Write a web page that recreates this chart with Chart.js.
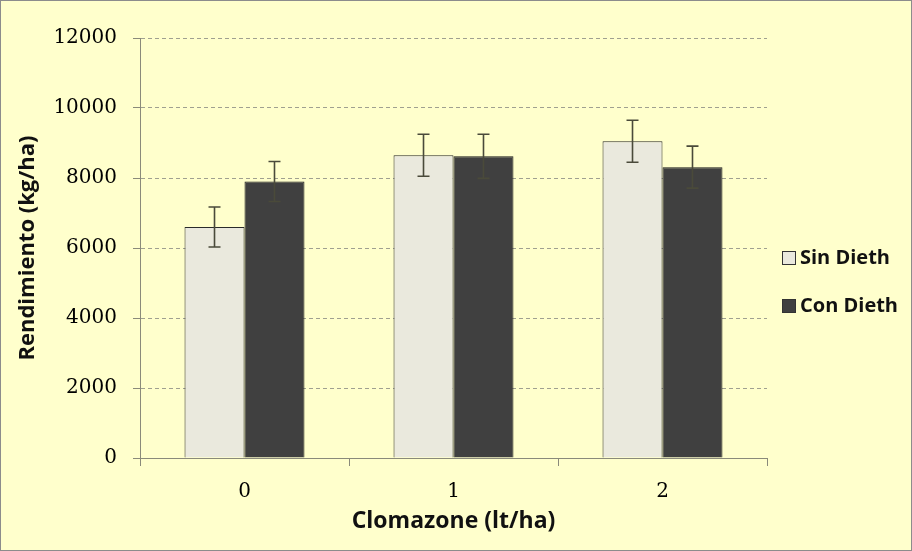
<!DOCTYPE html>
<html>
<head>
<meta charset="utf-8">
<script src="https://cdn.jsdelivr.net/npm/chart.js@4.4.0/dist/chart.umd.min.js"></script>
<style>
  html, body { margin: 0; padding: 0; background: #fff; }
  #wrap { position: relative; width: 912px; height: 551px; }
</style>
</head>
<body>
<div id="wrap"><canvas id="chart"></canvas></div>
<script>
// values
const doses = ["0", "1", "2"];
const sinDieth = [6600, 8650, 9050];
const sinDiethErr = [570, 600, 600];
const conDieth = [7900, 8620, 8310];
const conDiethErr = [570, 630, 600];
const yTicks = [0, 2000, 4000, 6000, 8000, 10000, 12000];

const BG = "#FFFFCC";

// background + outer frame
const frame = {
  id: "frame",
  beforeDraw(chart) {
    const c = chart.ctx;
    c.save();
    c.fillStyle = BG;
    c.fillRect(0, 0, chart.width, chart.height);
    c.strokeStyle = "#8c8c8c";
    c.lineWidth = 1;
    c.strokeRect(0.5, 0.5, chart.width - 1, chart.height - 1);
    c.restore();
  }
};

// error bars, using the y scale
const errorBars = {
  id: "errorBars",
  afterDatasetsDraw(chart) {
    const c = chart.ctx;
    const y = chart.scales.y;
    c.save();
    c.strokeStyle = "#4a4a3a";
    c.lineWidth = 1.6;
    chart.data.datasets.forEach((ds, i) => {
      const meta = chart.getDatasetMeta(i);
      meta.data.forEach((bar, j) => {
        const v = ds.data[j], e = ds.errors[j];
        const top = y.getPixelForValue(v + e);
        const bot = y.getPixelForValue(v - e);
        c.beginPath();
        c.moveTo(bar.x, top); c.lineTo(bar.x, bot);
        c.moveTo(bar.x - 6, top); c.lineTo(bar.x + 6, top);
        c.moveTo(bar.x - 6, bot); c.lineTo(bar.x + 6, bot);
        c.stroke();
      });
    });
    c.restore();
  }
};

// legend on the right, drawn from the datasets
const sideLegend = {
  id: "sideLegend",
  afterDraw(chart) {
    const c = chart.ctx;
    const rows = [258, 306];
    c.save();
    c.font = "bold 20px 'Open Sans'";
    c.textBaseline = "middle";
    chart.data.datasets.forEach((ds, i) => {
      const cy = rows[i];
      c.fillStyle = ds.backgroundColor;
      c.fillRect(782, cy - 7, 14, 14);
      c.strokeStyle = "#333";
      c.lineWidth = 1;
      c.strokeRect(782.5, cy - 6.5, 13, 13);
      c.fillStyle = "#111";
      c.fillText(ds.label, 800, cy);
    });
    c.restore();
  }
};

new Chart(document.getElementById("chart"), {
  type: "bar",
  data: {
    labels: doses,
    datasets: [
      { label: "Sin Dieth", data: sinDieth, errors: sinDiethErr,
        backgroundColor: "#EAE9DD", borderColor: "#2a2a2a", borderWidth: 1 },
      { label: "Con Dieth", data: conDieth, errors: conDiethErr,
        backgroundColor: "#404040", borderColor: "#1a1a1a", borderWidth: 1 }
    ]
  },
  options: {
    responsive: true,
    maintainAspectRatio: false,
    animation: false,
    layout: { padding: { left: 11, top: 38, right: 145, bottom: 12 } },
    datasets: { bar: { categoryPercentage: 0.574, barPercentage: 1.0 } },
    plugins: { legend: { display: false }, tooltip: { enabled: false } },
    scales: {
      x: {
        afterFit: (s) => { s.height = 551 - 458 - 12; },
        grid: { offset: true, drawOnChartArea: false, drawTicks: true, tickLength: 8, color: "#8a8a7a" },
        border: { display: true, color: "#8a8a7a" },
        ticks: { color: "#000", padding: 14, font: { family: "'DejaVu Serif'", size: 20 } },
        title: { display: true, text: "Clomazone (lt/ha)", color: "#111",
          font: { family: "'Open Sans'", size: 23, weight: "bold" } }
      },
      y: {
        min: 0, max: 12000,
        afterFit: (s) => { s.width = 140 - 11; },
        afterBuildTicks: (s) => { s.ticks = yTicks.map(v => ({ value: v })); },
        grid: { color: "#a0a090", tickLength: 7, tickColor: "#8a8a7a", tickBorderDash: [] },
        border: { display: true, color: "#8a8a7a", dash: [4, 3] },
        ticks: { color: "#000", padding: 16, callback: (v) => String(v),
          font: { family: "'DejaVu Serif'", size: 20 } },
        title: { display: true, text: "Rendimiento (kg/ha)", color: "#111",
          font: { family: "'Open Sans'", size: 22, weight: "bold" } }
      }
    }
  },
  plugins: [frame, errorBars, sideLegend]
});
</script>
</body>
</html>
